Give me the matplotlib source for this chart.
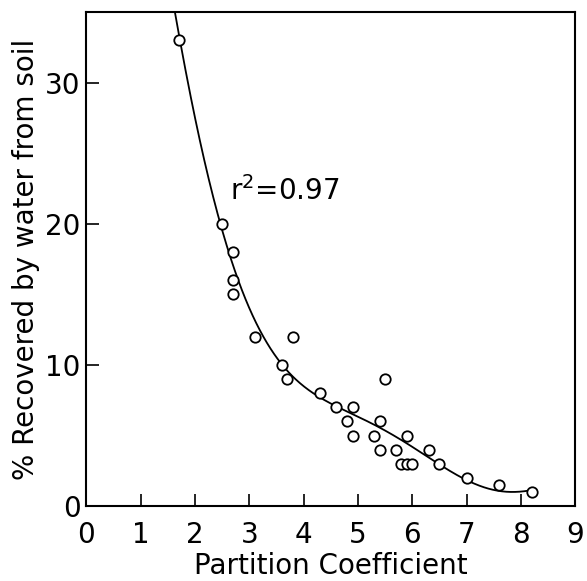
import numpy as np
import matplotlib
matplotlib.use("Agg")
import matplotlib.pyplot as plt

plt.rcParams['font.family'] = ['DejaVu Sans']

partition = [1.7, 2.5, 2.7, 2.7, 2.7, 3.1, 3.6, 3.8, 3.7, 4.3, 4.6, 4.9, 4.8, 4.9,
             5.3, 5.4, 5.4, 5.5, 5.7, 5.8, 5.9, 6.0, 5.9, 6.3, 6.5, 7.0, 7.6, 8.2]
recovered = [33, 20, 18, 16, 15, 12, 10, 12, 9, 8, 7, 7, 6, 5,
             5, 6, 4, 9, 4, 3, 3, 3, 5, 4, 3, 2, 1.5, 1]

# fitted curve
fit_x = [1.63, 1.72, 2.08, 2.32, 2.49, 2.69, 3.13, 3.60, 4.23, 4.65, 5.02,
         5.38, 5.87, 6.52, 6.99, 7.34, 7.71, 7.95, 8.19]
fit_y = [35.0, 33.0, 26.5, 21.7, 20.1, 17.0, 12.7, 10.1, 8.2, 6.95, 6.24,
         5.4, 4.47, 3.0, 1.99, 1.28, 0.92, 0.95, 1.2]

xticks = list(range(0, 10))
yticks = [0, 10, 20, 30]

fig = plt.figure(figsize=(5.87, 5.81), dpi=100)
ax = fig.add_axes([0.147, 0.129, 0.833, 0.85])

fx = np.array(fit_x)
fy = np.array(fit_y)
xm, xsd = fx.mean(), fx.std()
coef = np.polyfit((fx - xm) / xsd, fy, 6)
xs = np.linspace(fx.min(), fx.max(), 400)
ax.plot(xs, np.polyval(coef, (xs - xm) / xsd), color='black', lw=1.3)
ax.plot(partition, recovered, 'o', mfc='white', mec='black', ms=7.5, mew=1.3)

ax.set_xlim(0, 9)
ax.set_ylim(0, 35)
ax.set_xticks(xticks)
ax.set_yticks(yticks)
ax.tick_params(direction='in', length=9, width=1.2, labelsize=20,
               top=False, right=False)
ax.tick_params(axis='x', pad=11)
ax.tick_params(axis='y', pad=4)
for s in ax.spines.values():
    s.set_linewidth(1.5)
ax.set_xlabel('Partition Coefficient', fontsize=20, labelpad=2)
ax.set_ylabel('% Recovered by water from soil', fontsize=20, labelpad=4)
ax.text(2.65, 21.7, 'r$^{2}$=0.97', fontsize=20)

fig.savefig('out.png', dpi=100)
